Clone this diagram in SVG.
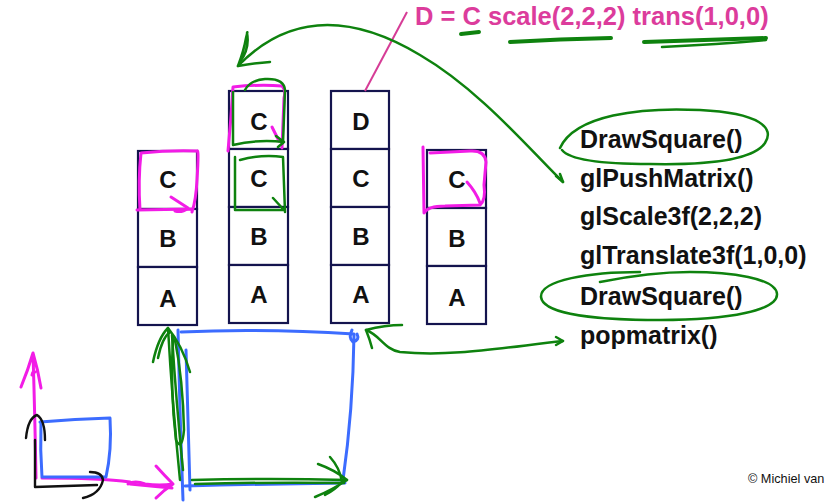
<svg xmlns="http://www.w3.org/2000/svg" width="827" height="502" viewBox="0 0 827 502">
<style>
.box{fill:#fff;stroke:#14144e;stroke-width:2.2}
.lbl{font-family:"Liberation Sans",Arial,sans-serif;font-weight:bold;font-size:24px;fill:#111;text-anchor:middle}
.code{font-family:"Liberation Sans",Arial,sans-serif;font-weight:bold;font-size:25px;fill:#111}
.title{font-family:"Liberation Sans",Arial,sans-serif;font-weight:bold;font-size:25.5px;fill:#dc3c9c}
.copy{font-family:"Liberation Sans",Arial,sans-serif;font-size:12.7px;fill:#111}
.g{fill:none;stroke:#0e820e;stroke-width:2.5;stroke-linecap:round;stroke-linejoin:round}
.gt{fill:none;stroke:#0e820e;stroke-width:4;stroke-linecap:round}
.m{fill:none;stroke:#f21ce6;stroke-width:3;stroke-linecap:round;stroke-linejoin:round}
.b{fill:none;stroke:#3c6cff;stroke-width:3;stroke-linecap:round;stroke-linejoin:round}
.k{fill:none;stroke:#111;stroke-width:2.4;stroke-linecap:round;stroke-linejoin:round}
</style>
<rect width="827" height="502" fill="#fff"/>

<g id="stack1">
<rect class="box" x="138" y="151" width="59" height="58"/>
<rect class="box" x="138" y="209" width="59" height="58"/>
<rect class="box" x="138" y="267" width="59" height="58"/>
<text class="lbl" x="168" y="188">C</text>
<text class="lbl" x="168" y="247">B</text>
<text class="lbl" x="168" y="307">A</text>
</g>
<g id="stack2">
<rect class="box" x="229" y="91" width="59" height="58"/>
<rect class="box" x="229" y="149" width="59" height="58"/>
<rect class="box" x="229" y="207" width="59" height="58"/>
<rect class="box" x="229" y="265" width="59" height="58"/>
<text class="lbl" x="259" y="130">C</text>
<text class="lbl" x="259" y="187">C</text>
<text class="lbl" x="259" y="245">B</text>
<text class="lbl" x="259" y="303">A</text>
</g>
<g id="stack3">
<rect class="box" x="331" y="91" width="58" height="58"/>
<rect class="box" x="331" y="149" width="58" height="58"/>
<rect class="box" x="331" y="207" width="58" height="58"/>
<rect class="box" x="331" y="265" width="58" height="58"/>
<text class="lbl" x="361" y="130">D</text>
<text class="lbl" x="361" y="187">C</text>
<text class="lbl" x="361" y="245">B</text>
<text class="lbl" x="361" y="303">A</text>
</g>
<g id="stack4">
<rect class="box" x="427" y="150" width="59" height="58"/>
<rect class="box" x="427" y="208" width="59" height="58"/>
<rect class="box" x="427" y="266" width="59" height="58"/>
<text class="lbl" x="457" y="188">C</text>
<text class="lbl" x="457" y="247">B</text>
<text class="lbl" x="457" y="306">A</text>
</g>

<g id="code">
<text class="code" x="580" y="148">DrawSquare()</text>
<text class="code" x="580" y="187">glPushMatrix()</text>
<text class="code" x="580" y="225">glScale3f(2,2,2)</text>
<text class="code" x="580" y="264">glTranslate3f(1,0,0)</text>
<text class="code" x="580" y="305">DrawSquare()</text>
<text class="code" x="580" y="344">popmatrix()</text>
</g>

<g id="title">
<text class="title" x="415" y="25">D = C scale(2,2,2) trans(1,0,0)</text>
</g>
<text class="copy" x="748" y="483">© Michiel van</text>

<g id="connectors">
<path d="M407,12 L365,91" fill="none" stroke="#d63c96" stroke-width="2"/>
<path class="gt" d="M461,34 L479,32"/>
<path class="gt" d="M510,42 Q560,39 611,38"/>
<path class="gt" d="M644,42 Q700,40 766,38"/>
<path class="g" d="M662,47 Q720,44 766,40"/>
<path class="g" d="M563,182 C530,150 480,90 420,55 C370,25 300,2 238,66"/>
<path class="g" d="M238,66 Q244,50 246,38 Q248,30 247,33 Q250,48 240,62 M238,66 Q255,63 270,62"/>
<path class="g" d="M556,176 L563,182 L560,174"/>
<path class="g" d="M560,148 C575,115 640,107 700,110 C760,113 775,128 765,143 C752,162 700,165 650,164 C600,164 570,160 562,150"/>
<path class="g" d="M640,272 C590,272 540,280 541,297 C543,315 600,320 660,320 C730,320 778,310 777,294 C776,278 730,272 690,272 C660,272 630,276 600,282"/>
<path class="g" d="M563,341 C500,348 450,357 400,352 C385,350 380,335 366,330"/>
<path class="g" d="M366,330 Q385,325 402,325 M366,330 Q370,340 372,348"/>
<path class="g" d="M556,337 L563,341 L556,345"/>
<path class="m" d="M140,210 Q138,180 141,153 Q170,150 197,151 Q199,148 197,180 Q196,200 192,212 M137,210 L193,209"/>
<path class="m" d="M171,197 L188,208 Q182,213 175,211"/>
<path class="m" d="M228,151 Q231,120 233,87 Q260,84 282,86 Q286,90 284,98 L282,148"/>
<path class="m" d="M272,127 L279,141"/>
<path class="g" d="M245,90 Q250,80 265,79 Q284,78 285,90 L283,143"/>
<path class="g" d="M233,92 L233,145 Q258,139 284,142 M276,136 L284,142 L278,147"/>
<path class="g" d="M235,157 L235,210 L285,210 M240,160 Q262,154 283,157 L285,212 M273,198 L284,210"/>
<path class="m" d="M423,147 L424,213 Q428,206 445,206 L480,205 Q486,200 484,185 L486,162 Q485,150 470,151 L430,153 M467,182 Q476,192 480,203"/>
<path class="b" d="M178,330 Q180,420 183,500"/>
<path class="b" d="M186,350 Q188,420 190,490"/>
<path class="b" d="M181,332 Q260,328 354,334"/>
<path class="b" d="M352,330 Q348,338 353,342 Q360,340 357,334 M354,335 Q353,410 343,480"/>
<path class="b" d="M185,486 Q260,484 345,483"/>
<path class="g" d="M180,480 Q172,400 168,328 M183,470 Q176,400 172,335"/>
<path class="g" d="M153,362 Q158,338 168,328 Q182,345 190,372 M158,358 Q162,338 170,332"/>
<path class="g" d="M173,337 Q170,390 176,440 Q182,452 184,430 Q183,380 175,340"/>
<path class="g" d="M192,480 Q270,478 347,480 M195,484 Q270,482 344,483"/>
<path class="g" d="M318,464 Q335,470 347,480 Q332,490 315,497 M330,457 Q340,468 342,482 Q335,490 325,495"/>
<path class="m" d="M128,484 Q135,480 145,484 Q160,486 173,484 M156,466 Q165,476 173,484 Q164,490 156,498"/>
<path class="m" d="M36,478 Q35,420 33,353 M21,387 Q28,370 33,353 Q38,370 41,388 M32,375 Q33,370 35,372"/>
<path class="m" d="M42,478 Q100,478 130,482 M130,484 Q150,486 172,488"/>
<path class="b" d="M40,422 Q75,419 110,418 Q112,450 106,477 L42,477 Q40,450 41,422"/>
<path class="k" d="M35,440 L35,487 L97,485"/>
<path class="k" d="M26,438 Q28,418 37,415 Q45,420 45,440"/>
<path class="k" d="M90,472 Q102,472 103,480 Q100,494 83,498"/>
</g>
</svg>
